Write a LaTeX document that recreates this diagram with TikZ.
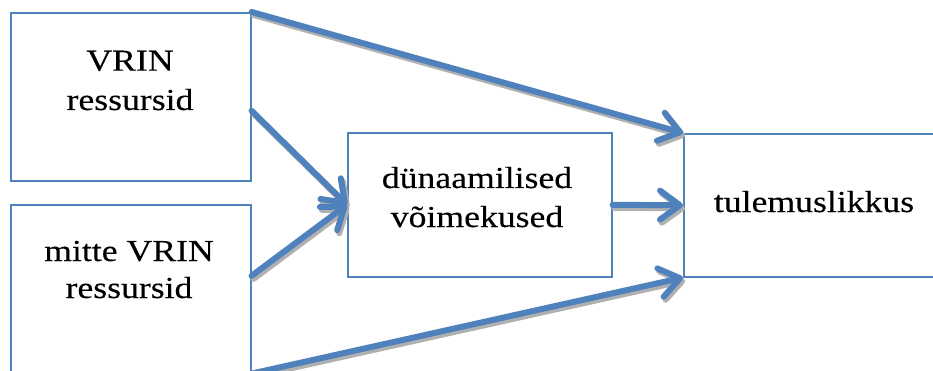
\documentclass[tikz,border=0pt]{standalone}
\usepackage{fontspec}
\setmainfont[FakeStretch=1.17,FakeBold=0.25]{Liberation Serif}
\usetikzlibrary{arrows.meta}
\definecolor{accent}{HTML}{4F81BD}
\definecolor{shade}{HTML}{B0B0B0}
\begin{document}
\begin{tikzpicture}[x=1pt,y=-1pt,
  box/.style={draw=accent,line width=1.6pt,fill=white,inner sep=0pt,anchor=north west},
  txt/.style={anchor=base,inner sep=0pt,font=\fontsize{30.5}{38}\selectfont},
  tip/.style={-{Straight Barb[length=20pt,width=29pt,line width=6pt,round]}},
  conn/.style={draw=accent,line width=6pt,line cap=round,line join=round,tip},
  connshadow/.style={draw=shade,line width=6pt,line cap=round,line join=round,tip,
    transform canvas={shift={(2pt,-3pt)}}}]
\useasboundingbox (0,0) rectangle (933,371);
\clip (0,0) rectangle (933,371);
\fill[white] (0,0) rectangle (933,371);
\node[box,minimum width=240pt,minimum height=168pt] (b1) at (10,12) {};
\node[box,minimum width=240pt,minimum height=168pt] (b2) at (10,204) {};
\node[box,minimum width=264pt,minimum height=144pt] (mid) at (347,132) {};
\node[box,minimum width=262pt,minimum height=143pt] (res) at (683,133) {};
\node[txt] (t1a) at (130,70.7) {VRIN};
\node[txt] (t1b) at (130,110) {ressursid};
\node[txt] (t2a) at (129,261) {mitte VRIN};
\node[txt] (t2b) at (129,298) {ressursid};
\node[txt] (tma) at (477,188) {dünaamilised};
\node[txt] (tmb) at (477,227) {võimekused};
\node[txt] (tr) at (814,212) {tulemuslikkus};
\coordinate (b1out) at ([yshift=-14pt]b1.east);
\coordinate (b2out) at ([yshift=13pt]b2.east);
\foreach \s in {connshadow,conn}{
  \draw[\s] (b1.north east) -- (res.north west);
  \draw[\s] (b1out) -- (mid.west);
  \draw[\s] (b2out) -- (mid.west);
  \draw[\s] (b2.south east) -- (res.south west);
  \draw[\s] (mid.east) -- (res.west);
}
\end{tikzpicture}
\end{document}
